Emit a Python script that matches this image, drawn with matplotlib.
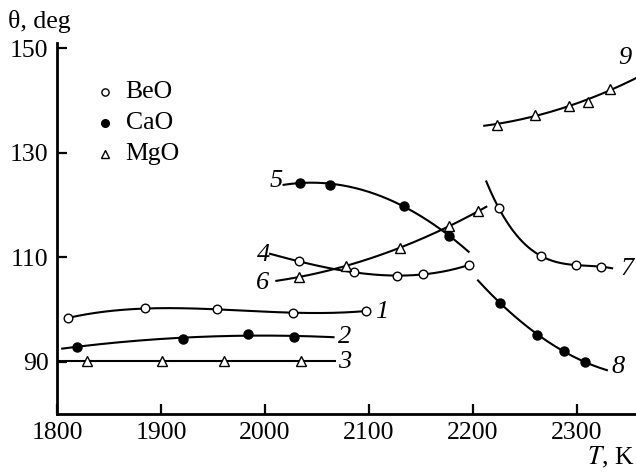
import numpy as np
import matplotlib
matplotlib.use("Agg")
import matplotlib.pyplot as plt

plt.rcParams['font.family'] = ['Liberation Serif', 'DejaVu Serif']
plt.rcParams['font.size'] = 18.5

# curve number -> (material, T points, theta points, line from, line to, fit degree)
T1 = [1811, 1885, 1954, 2027, 2097]
th1 = [98.4, 100.2, 100.0, 99.4, 99.7]
T2 = [1819, 1921, 1984, 2028]
th2 = [92.9, 94.4, 95.3, 94.8]
T3 = [1829, 1901, 1961, 2035]
th3 = [90.2, 90.2, 90.2, 90.2]
T4 = [2033, 2086, 2127, 2152, 2196]
th4 = [109.2, 107.1, 106.5, 106.7, 108.5]
T5 = [2034, 2063, 2134, 2177]
th5 = [124.3, 123.9, 119.8, 114.1]
T6 = [2033, 2078, 2130, 2177, 2205]
th6 = [106.2, 108.4, 111.8, 115.9, 118.8]
T7 = [2225, 2266, 2299, 2323]
th7 = [119.4, 110.2, 108.5, 108.2]
T8 = [2226, 2262, 2288, 2308]
th8 = [101.3, 95.2, 92.0, 89.9]
T9 = [2223, 2260, 2293, 2311, 2332]
th9 = [135.4, 137.3, 139.0, 139.8, 142.2]

curves = [
    ('BeO', T1, th1, 1811, 2097, 3, '1'),
    ('CaO', T2, th2, 1805, 2066, 2, '2'),
    ('MgO', T3, th3, 1800, 2067, 1, '3'),
    ('BeO', T4, th4, 2005, 2196, 3, '4'),
    ('CaO', T5, th5, 2018, 2196, 2, '5'),
    ('MgO', T6, th6, 2011, 2213, 2, '6'),
    ('BeO', T7, th7, 2213, 2334, 3, '7'),
    ('CaO', T8, th8, 2205, 2329, 2, '8'),
    ('MgO', T9, th9, 2211, 2360, 2, '9'),
]
# where the curve numbers sit
lab_T = [2112, 2077, 2077, 1999, 2011, 1998, 2348, 2340, 2346]
lab_th = [99.6, 94.8, 89.9, 110.5, 124.5, 105.1, 107.8, 89.0, 148.1]

styles = {
    'BeO': dict(marker='o', markerfacecolor='white', markersize=6.2),
    'CaO': dict(marker='o', markerfacecolor='black', markersize=6.5),
    'MgO': dict(marker='^', markerfacecolor='white', markersize=7.0),
}

fig = plt.figure(figsize=(6.36, 4.74), dpi=100)
ax = fig.add_axes([0.0896, 0.1266, 0.9104, 0.7827])

for (mat, T, th, t0, t1, deg, num), lx, ly in zip(curves, lab_T, lab_th):
    c = np.polyfit(T, th, deg)
    tt = np.linspace(t0, t1, 200)
    ax.plot(tt, np.polyval(c, tt), color='black', lw=1.5, zorder=2)
    ax.plot(T, th, ls='none', color='black', markeredgewidth=1.0,
            zorder=3, **styles[mat])
    ax.text(lx, ly, num, style='italic', ha='center', va='center', fontsize=19)

# legend drawn by hand
for i, mat in enumerate(['BeO', 'CaO', 'MgO']):
    y = 141.6 - 5.9 * i
    ax.plot([1846], [y], ls='none', color='black', markeredgewidth=1.0,
            **dict(styles[mat], markersize=styles[mat]['markersize'] - 1))
    ax.text(1866, y, mat, ha='left', va='center', fontsize=18.5)

ax.set_xlim(1800, 2357)
ax.set_ylim(80, 151)
ax.set_xticks([1800, 1900, 2000, 2100, 2200, 2300])
ax.set_yticks([90, 110, 130, 150])
ax.spines['top'].set_visible(False)
ax.spines['right'].set_visible(False)
ax.spines['left'].set_linewidth(2)
ax.spines['bottom'].set_linewidth(2)
ax.tick_params(direction='in', length=7, width=1.6, labelsize=18.5, pad=6)

fig.text(0.012, 0.955, 'θ, deg', ha='left', va='center', fontsize=18.5)
fig.text(0.998, 0.035, '$T$, K', ha='right', va='center', fontsize=18.5,
         math_fontfamily='stix')

fig.savefig('out.png', dpi=100)
